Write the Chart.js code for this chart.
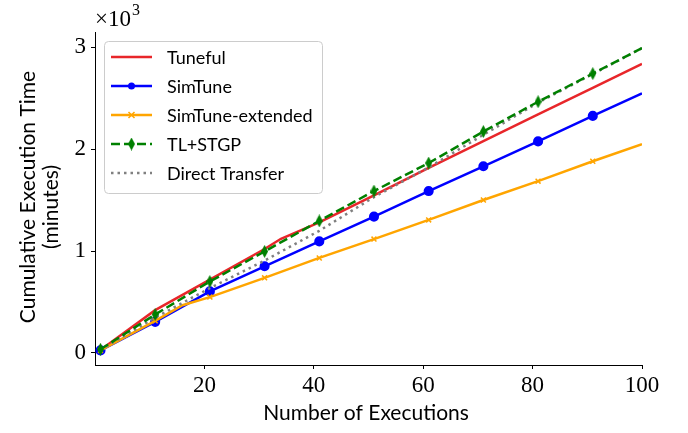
<!DOCTYPE html>
<html lang="en">
<head>
    <meta charset="UTF-8">
    <title>Cumulative Execution Time</title>
    <style>
        body { margin: 0; background: white; }
        #chart { display: block; }
    </style>
</head>
<body>
    <canvas id="chart" width="688" height="433"></canvas>
    <script src="https://cdn.jsdelivr.net/npm/chart.js"></script>
    <script>
        // data (minutes)
        const runs = [1, 11, 21, 31, 41, 51, 61, 71, 81, 91, 100];
        const tunefulX = [1, 11, 21, 31, 34, 41, 51, 61, 71, 81, 91, 100];
        const tunefulY = [30, 420, 720, 1020, 1120, 1280, 1545, 1815, 2077, 2339, 2600, 2835];
        const simtuneY = [25, 305, 604, 850, 1094, 1337, 1588, 1831, 2075, 2325, 2545];
        const extendedX = [1, 11, 16, 21, 31, 41, 51, 61, 71, 81, 91, 100];
        const extendedY = [25, 315, 468, 548, 737, 932, 1117, 1305, 1500, 1685, 1880, 2048];
        const stgpY = [36, 377, 701, 996, 1295, 1588, 1863, 2172, 2464, 2740, 2990];
        const directY = [30, 347, 636, 906, 1198, 1529, 1820, 2140, 2455, 2735, 2990];
        const xTicks = [20, 40, 60, 80, 100];
        const yTicks = [0, 1000, 2000, 3000];

        const pts = (xs, ys) => xs.map((x, i) => ({ x: x, y: ys[i] }));
        const isMark = ctx => ctx.raw && (ctx.raw.x - 1) % 10 === 0;

        // thin diamond like matplotlib 'd'
        const diamond = document.createElement('canvas');
        diamond.width = 7; diamond.height = 13;
        const dctx = diamond.getContext('2d');
        dctx.fillStyle = '#008000';
        dctx.beginPath();
        dctx.moveTo(3.5, 0); dctx.lineTo(7, 6.5); dctx.lineTo(3.5, 13); dctx.lineTo(0, 6.5);
        dctx.closePath(); dctx.fill();

        const SANS = 'Lato, "DejaVu Sans", sans-serif';
        const SERIF = '"Liberation Serif", "DejaVu Serif", serif';

        const datasets = [
            { label: 'Tuneful', data: pts(tunefulX, tunefulY), borderColor: '#e8262a', pointRadius: 0, order: 5 },
            { label: 'SimTune', data: pts(runs, simtuneY), borderColor: '#0000ff', backgroundColor: '#0000ff',
              pointStyle: 'circle', pointRadius: c => isMark(c) ? 3.8 : 0, order: 4 },
            { label: 'SimTune-extended', data: pts(extendedX, extendedY), borderColor: '#ffa500', backgroundColor: '#ffa500',
              pointStyle: 'crossRot', pointBorderWidth: 1.5, pointRadius: c => isMark(c) ? 3.5 : 0, order: 3 },
            { label: 'TL+STGP', data: pts(runs, stgpY), borderColor: '#008000', backgroundColor: '#008000',
              borderDash: [9, 4], pointStyle: diamond, pointRadius: c => isMark(c) ? 5 : 0, order: 1 },
            { label: 'Direct Transfer', data: pts(runs, directY), borderColor: '#808080',
              borderDash: [2.5, 4], pointRadius: 0, order: 2 }
        ];
        datasets.forEach(d => { d.borderWidth = 2.5; d.fill = false; d.tension = 0; });

        // legend box, axis titles and the x10^3 offset text
        const extras = {
            id: 'extras',
            afterDraw(chart) {
                const ctx = chart.ctx;
                ctx.save();
                // legend
                const bx = 104, by = 41, bw = 218, bh = 152;
                ctx.fillStyle = 'rgba(255,255,255,0.85)';
                ctx.strokeStyle = '#cccccc';
                ctx.lineWidth = 1;
                ctx.beginPath();
                ctx.roundRect(bx + 0.5, by + 0.5, bw, bh, 4);
                ctx.fill(); ctx.stroke();
                ctx.font = '18px ' + SANS;
                ctx.textBaseline = 'middle';
                const order = [0, 1, 2, 3, 4];
                order.forEach((di, row) => {
                    const ds = chart.data.datasets[di];
                    const y = 57 + row * 29;
                    ctx.strokeStyle = ds.borderColor;
                    ctx.lineWidth = 2.5;
                    ctx.setLineDash(ds.borderDash || []);
                    ctx.beginPath(); ctx.moveTo(111, y); ctx.lineTo(152, y); ctx.stroke();
                    ctx.setLineDash([]);
                    const cx = 131.5;
                    if (di === 1) {
                        ctx.fillStyle = ds.borderColor;
                        ctx.beginPath(); ctx.arc(cx, y, 3.5, 0, Math.PI * 2); ctx.fill();
                    } else if (di === 2) {
                        ctx.lineWidth = 1.5;
                        ctx.beginPath();
                        ctx.moveTo(cx - 3, y - 3); ctx.lineTo(cx + 3, y + 3);
                        ctx.moveTo(cx - 3, y + 3); ctx.lineTo(cx + 3, y - 3);
                        ctx.stroke();
                    } else if (di === 3) {
                        ctx.drawImage(diamond, cx - 3.5, y - 6.5);
                    }
                    ctx.fillStyle = '#000';
                    ctx.fillText(ds.label, 167, y + 1);
                });
                // axis titles
                ctx.fillStyle = '#000';
                ctx.font = '21px ' + SANS;
                ctx.textAlign = 'center';
                ctx.textBaseline = 'middle';
                ctx.fillText('Number of Executions', 366, 413);
                ctx.save();
                ctx.translate(28, 197);
                ctx.rotate(-Math.PI / 2);
                ctx.fillText('Cumulative Execution Time', 0, 0);
                ctx.restore();
                ctx.save();
                ctx.translate(51, 207);
                ctx.rotate(-Math.PI / 2);
                ctx.fillText('(minutes)', 0, 0);
                ctx.restore();
                // offset text
                ctx.textAlign = 'left';
                ctx.textBaseline = 'alphabetic';
                ctx.font = '23px ' + SERIF;
                ctx.fillText('\u00d710', 95, 26);
                const w = ctx.measureText('\u00d710').width;
                ctx.font = '16px ' + SERIF;
                ctx.fillText('3', 95 + w + 1, 15);
                ctx.restore();
            }
        };

        new Chart(document.getElementById('chart').getContext('2d'), {
            type: 'line',
            data: { datasets: datasets },
            options: {
                responsive: false,
                animation: false,
                layout: { padding: { left: 0, top: 32, right: 46, bottom: 0 } },
                plugins: { legend: { display: false }, tooltip: { enabled: false } },
                scales: {
                    x: {
                        type: 'linear',
                        min: 0,
                        max: 100,
                        afterBuildTicks: s => { s.ticks = xTicks.map(v => ({ value: v })); },
                        afterFit: s => { s.height = 68; },
                        grid: { display: true, drawOnChartArea: false, drawTicks: true, tickLength: 4, color: '#000' },
                        border: { display: true, color: '#000', width: 1 },
                        ticks: { color: '#000', font: { family: SERIF, size: 23 }, padding: 3, maxRotation: 0 }
                    },
                    y: {
                        type: 'linear',
                        min: -118,
                        max: 3148,
                        afterBuildTicks: s => { s.ticks = yTicks.map(v => ({ value: v })); },
                        afterFit: s => { s.width = 95; },
                        grid: { display: true, drawOnChartArea: false, drawTicks: true, tickLength: 4, color: '#000' },
                        border: { display: true, color: '#000', width: 1 },
                        ticks: { color: '#000', font: { family: SERIF, size: 23 }, padding: 5,
                                 callback: v => String(v / 1000) }
                    }
                }
            },
            plugins: [extras]
        });
    </script>
</body>
</html>
